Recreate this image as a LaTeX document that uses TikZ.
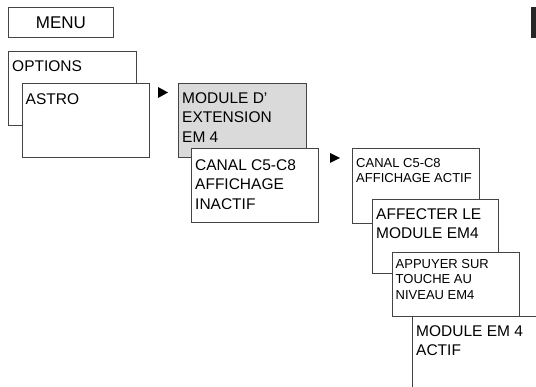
\documentclass[tikz,border=0pt]{standalone}
\usepackage{fontspec}
\setmainfont{Liberation Sans}
\definecolor{edge}{HTML}{444444}
\definecolor{shade}{HTML}{DADADA}
\tikzset{
  box/.style={draw=edge, line width=0.9pt, fill=white, rectangle, inner sep=0pt, anchor=north west},
  bigtxt/.style={anchor=north west, inner sep=0pt, align=left, font=\fontsize{15.5}{19.5}\selectfont},
  smalltxt/.style={anchor=north west, inner sep=0pt, align=left, font=\fontsize{13}{15.5}\selectfont},
  marker/.style={fill=black}
}
\begin{document}
\begin{tikzpicture}[x=1pt,y=-1pt]
\useasboundingbox (0,0) rectangle (536,387);
% MENU
\node[box, minimum width=105pt, minimum height=30pt] (menu) at (8,7) {};
\node[font=\fontsize{17}{20}\selectfont, inner sep=0pt] (menut) at (menu.center) {MENU};
% OPTIONS / ASTRO
\node[box, minimum width=128pt, minimum height=74pt] (opt) at (8,51) {};
\node[bigtxt] (optt) at ([xshift=4pt,yshift=-9pt]opt.north west) {OPTIONS};
\node[box, minimum width=127pt, minimum height=74pt] (astro) at (22,83) {};
\node[bigtxt] (astrot) at ([xshift=3.5pt,yshift=-10pt]astro.north west) {ASTRO};
\fill[marker] (158,87) -- (168,92.5) -- (158,98) -- cycle;
% MODULE D'EXTENSION
\node[box, fill=shade, minimum width=128pt, minimum height=74pt] (mod) at (178,83) {};
\node[bigtxt] (modt) at ([xshift=4pt,yshift=-9pt]mod.north west) {MODULE D'\\EXTENSION\\EM 4};
\node[box, minimum width=127pt, minimum height=74pt] (inact) at (191,148) {};
\node[bigtxt] (inactt) at ([xshift=4pt,yshift=-11pt]inact.north west) {CANAL C5-C8\\AFFICHAGE\\INACTIF};
\fill[marker] (330,153) -- (340,158) -- (330,163) -- cycle;
% right cascade
\node[box, minimum width=127pt, minimum height=75pt] (act) at (352,148) {};
\node[smalltxt] (actt) at ([xshift=4pt,yshift=-10pt]act.north west) {CANAL C5-C8\\AFFICHAGE ACTIF};
\node[box, minimum width=126pt, minimum height=74pt] (aff) at (372,199) {};
\node[bigtxt] (afft) at ([xshift=4pt,yshift=-9pt]aff.north west) {AFFECTER LE\\MODULE EM4};
\node[box, minimum width=127pt, minimum height=64pt] (app) at (392,252) {};
\node[smalltxt] (appt) at ([xshift=3.5pt,yshift=-7pt]app.north west) {APPUYER SUR\\TOUCHE AU\\NIVEAU EM4};
\node[box, minimum width=150pt, minimum height=100pt] (fin) at (412,316) {};
\node[bigtxt] (fint) at ([xshift=4pt,yshift=-9pt]fin.north west) {MODULE EM 4\\ACTIF};
% black bar at top right
\fill[black!85] (531,7) rectangle (537,38);
\end{tikzpicture}
\end{document}
